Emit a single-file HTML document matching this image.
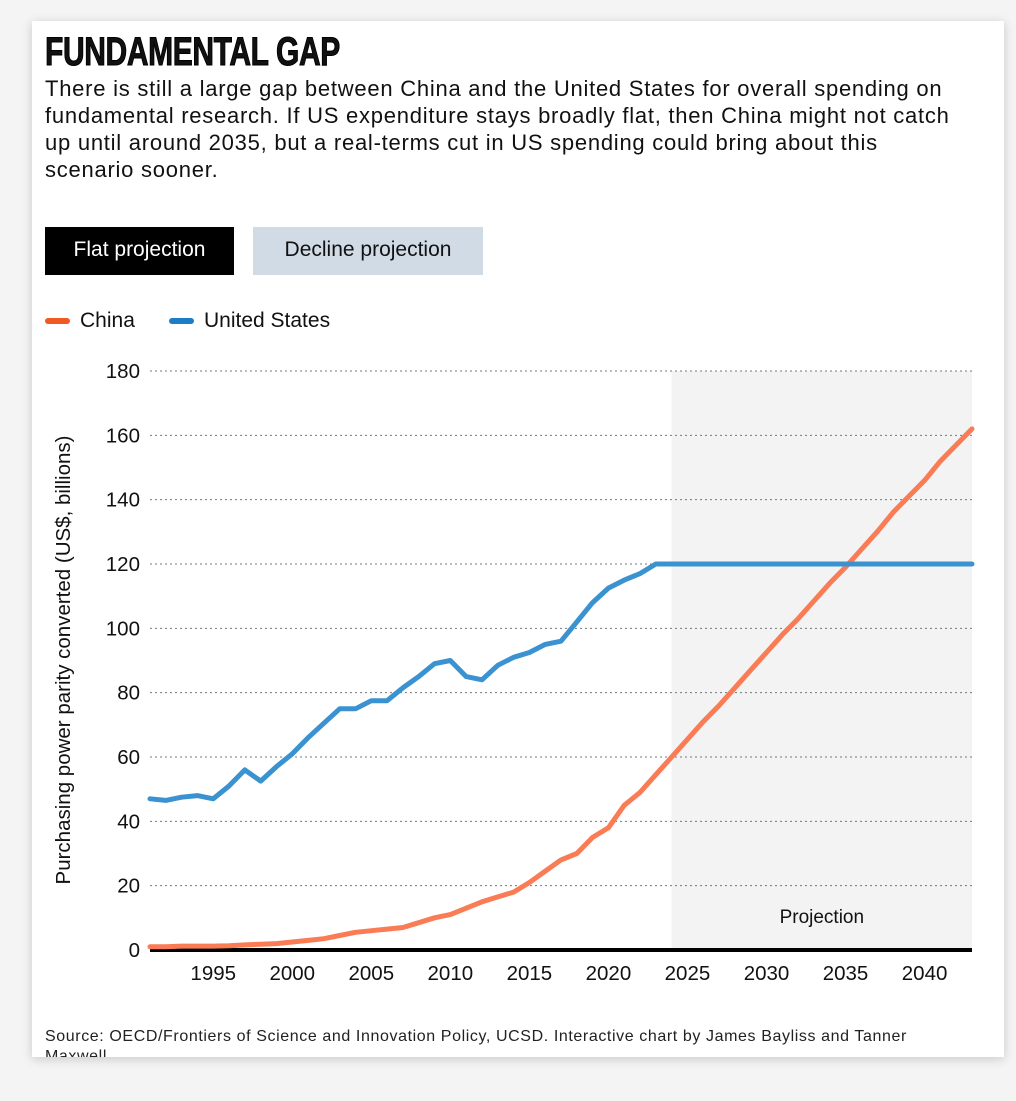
<!DOCTYPE html>
<html><head><meta charset="utf-8"><style>
body{margin:0;width:1016px;height:1101px;background:#f4f4f4;font-family:"Liberation Sans",sans-serif;position:relative;overflow:hidden}
#card{position:absolute;left:32px;top:21px;width:972px;height:1036px;background:#fff;box-shadow:0 2px 10px rgba(0,0,0,.18)}
.t{position:absolute;color:#111}
</style></head><body>
<div id="card"></div>
<div class="t" style="left:45px;top:32px;font-family:'Liberation Sans Narrow','Liberation Sans',sans-serif;font-weight:bold;font-size:40px;line-height:40px;letter-spacing:-0.5px;transform:scaleX(0.75);transform-origin:top left;-webkit-text-stroke:1px #000">FUNDAMENTAL GAP</div>
<div class="t" style="left:45px;top:75px;width:960px;white-space:nowrap;font-size:22px;line-height:27px;letter-spacing:0.75px">There is still a large gap between China and the United States for overall spending on<br>fundamental research. If US expenditure stays broadly flat, then China might not catch<br>up until around 2035, but a real-terms cut in US spending could bring about this<br>scenario sooner.</div>
<div style="position:absolute;left:45px;top:227px;width:189px;height:48px;background:#000;color:#fff;font-size:21px;line-height:46px;text-align:center">Flat projection</div>
<div style="position:absolute;left:253px;top:227px;width:230px;height:48px;background:#d0dbe6;color:#111;font-size:21px;line-height:46px;text-align:center">Decline projection</div>
<div style="position:absolute;left:45px;top:309px;font-size:21px;color:#111"><span style="display:inline-block;width:25px;height:6px;border-radius:3px;background:#f05a22;vertical-align:middle;margin-right:10px"></span>China</div>
<div style="position:absolute;left:169px;top:309px;font-size:21px;color:#111"><span style="display:inline-block;width:25px;height:6px;border-radius:3px;background:#1d7cc6;vertical-align:middle;margin-right:10px"></span>United States</div>
<svg id="chart" width="1016" height="1101" style="position:absolute;left:0;top:0"></svg>
<div class="t" style="left:45px;top:1027px;width:950px;height:30px;overflow:hidden;white-space:nowrap;font-size:16px;line-height:20px;letter-spacing:0.6px;color:#222">Source: OECD/Frontiers of Science and Innovation Policy, UCSD. Interactive chart by James Bayliss and Tanner<br>Maxwell</div>
<script>
const years=[];for(let y=1991;y<=2043;y++)years.push(y);
const usValues=[47,46.5,47.5,48,47,51,56,52.5,57,61,66,70.5,75,75,77.5,77.5,81.5,85,89,90,85,84,88.5,91,92.5,95,96,102,108,112.5,115,117,120,120,120,120,120,120,120,120,120,120,120,120,120,120,120,120,120,120,120,120,120];
const chinaValues=[1,1,1.2,1.2,1.2,1.3,1.6,1.8,2,2.5,3,3.5,4.5,5.5,6,6.5,7,8.5,10,11,13,15,16.5,18,21,24.5,28,30,35,38,45,49,54.5,60,65.5,71,76,81.5,87,92.5,98,103,108.5,114,119,124.5,130,136,141,146,152,157,162];
const yTicks=[0,20,40,60,80,100,120,140,160,180];
const xTicks=[1995,2000,2005,2010,2015,2020,2025,2030,2035,2040];
const projectionStart=2024;
const X0=150,X1=972,Y0=950,Y1=371;
const xs=v=>X0+(v-1991)/(2043-1991)*(X1-X0);
const ys=v=>Y0-v/180*(Y0-Y1);
const svg=document.getElementById('chart');const NS='http://www.w3.org/2000/svg';
function mk(t,a){const e=document.createElementNS(NS,t);for(const k in a)e.setAttribute(k,a[k]);svg.appendChild(e);return e;}
let r=mk('rect',{x:xs(projectionStart),y:Y1,width:X1-xs(projectionStart),height:Y0-Y1,fill:'#f3f3f3'});


let pt=mk('text',{x:(xs(projectionStart)+X1)/2,y:923,'text-anchor':'middle','font-size':19,fill:'#111','font-family':'Liberation Sans'});pt.textContent='Projection';


yTicks.forEach(v=>{
 if(v>0){let g=mk('line',{x1:X0,x2:X1,y1:ys(v),y2:ys(v),stroke:'#777','stroke-width':1,'stroke-dasharray':'2,3'});
 
 }
 let t=mk('text',{x:140,y:ys(v)+7,'text-anchor':'end','font-size':20.5,fill:'#111','font-family':'Liberation Sans'});t.textContent=v;
 
 
});
xTicks.forEach(v=>{
 let t=mk('text',{x:xs(v),y:980,'text-anchor':'middle','font-size':20.5,fill:'#111','font-family':'Liberation Sans'});t.textContent=v;
 
 
});
let ax=mk('line',{x1:X0,x2:X1,y1:Y0,y2:Y0,stroke:'#000','stroke-width':4});


let yt=mk('text',{x:0,y:0,transform:'translate(70,660) rotate(-90)','text-anchor':'middle','font-size':20.5,fill:'#111','font-family':'Liberation Sans'});yt.textContent='Purchasing power parity converted (US$, billions)';


function line(vals,color,name){const d=vals.map((v,i)=>(i?'L':'M')+xs(years[i]).toFixed(1)+','+ys(v).toFixed(1)).join('');
 const p=mk('path',{d:d,fill:'none',stroke:color,'stroke-width':5,'stroke-linejoin':'round','stroke-linecap':'round'});
 
 }
line(chinaValues,'#f97c55','china-line');
line(usValues,'#3a93d0','united-states-line');
</script>
</body></html>
